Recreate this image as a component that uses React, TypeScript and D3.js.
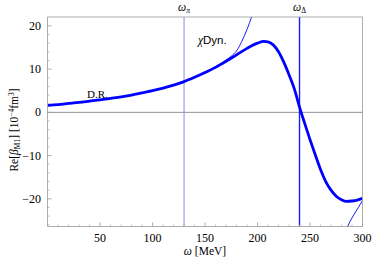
import React from "react";
import * as d3 from "d3";

const drX = [0, 10, 20, 30, 40, 50, 60, 70, 80, 90, 100, 110, 120, 130, 140, 150, 160, 170, 180, 190, 200, 206, 210, 215, 220, 225, 230, 235, 240, 245, 250, 255, 260, 265, 270, 275, 280, 285, 290, 295, 300];
const drY = [1.6, 1.8, 2.05, 2.3, 2.6, 2.9, 3.25, 3.6, 4.0, 4.5, 5.0, 5.6, 6.3, 7.1, 8.1, 9.2, 10.4, 11.8, 13.3, 14.8, 16.0, 16.4, 16.3, 15.6, 14.0, 11.6, 8.7, 5.5, 1.2, -2.6, -6.3, -9.8, -13.2, -16.0, -18.0, -19.4, -20.2, -20.6, -20.5, -20.3, -19.9];

const chiX = [0, 20, 40, 60, 80, 100, 120, 140, 160, 170, 175, 180, 185, 190, 195, 200];
const chiY = [1.6, 2.05, 2.6, 3.25, 4.0, 5.0, 6.3, 8.15, 10.6, 12.1, 13.0, 14.2, 16.4, 19.2, 22.6, 27];

const chi2X = [283, 288, 292, 296, 300];
const chi2Y = [-28, -25.3, -23.6, -22.0, -20.4];

const xTicks = [50, 100, 150, 200, 250, 300];
const yTicks = [-20, -10, 0, 10, 20];
const omegaPi = 130;
const omegaDelta = 240;

export default function App() {
  const W = 374, H = 258;
  const L = 47.6, R = 362.5, T = 17, B = 226.5;
  const x = d3.scaleLinear().domain([0, 300]).range([L, R]);
  const y = d3.scaleLinear().domain([-26.4, 22.05]).range([B, T]);
  const line = d3.line<[number, number]>().x(d => x(d[0])).y(d => y(d[1])).curve(d3.curveMonotoneX);
  const dr = drX.map((v, i) => [v, drY[i]] as [number, number]);
  const chi = chiX.map((v, i) => [v, chiY[i]] as [number, number]);
  const chi2 = chi2X.map((v, i) => [v, chi2Y[i]] as [number, number]);
  const xMinor = d3.range(10, 300, 10).filter(v => v % 50 !== 0);
  const yMinor = d3.range(-26, 22, 2).filter(v => v % 10 !== 0);
  const serif = "Liberation Serif, DejaVu Serif, serif";
  const frameColor = "#999";
  return (
    <svg width={W} height={H} style={{ position: "absolute", left: 0, top: 0 }}>
      <defs>
        <clipPath id="plot">
          <rect x={L} y={T} width={R - L} height={B - T} />
        </clipPath>
      </defs>
      <rect x={0} y={0} width={W} height={H} fill="white" />
      <line x1={L} x2={R} y1={y(0)} y2={y(0)} stroke="#777" strokeWidth={0.8} />
      <g clipPath="url(#plot)">
        <line x1={x(omegaPi)} x2={x(omegaPi)} y1={T} y2={B} stroke="#8c8ce0" strokeWidth={1} />
        <line x1={x(omegaDelta)} x2={x(omegaDelta)} y1={T} y2={B} stroke="#1a1aff" strokeWidth={1.4} />
        <path d={line(chi) || ""} fill="none" stroke="#1a1aff" strokeWidth={1} />
        <path d={line(chi2) || ""} fill="none" stroke="#1a1aff" strokeWidth={1} />
        <path d={line(dr) || ""} fill="none" stroke="#0000ff" strokeWidth={2.8} strokeLinejoin="round" />
      </g>
      <rect x={L} y={T} width={R - L} height={B - T} fill="none" stroke={frameColor} strokeWidth={0.8} />
      {xTicks.map(v => (
        <g key={"xt" + v}>
          <line x1={x(v)} x2={x(v)} y1={B} y2={B - 4} stroke={frameColor} strokeWidth={0.8} />
          <text x={x(v)} y={242} textAnchor="middle" fontFamily={serif} fontSize={12}>{v}</text>
        </g>
      ))}
      {xMinor.map(v => (
        <line key={"xm" + v} x1={x(v)} x2={x(v)} y1={B} y2={B - 2} stroke={frameColor} strokeWidth={0.6} />
      ))}
      {yTicks.map(v => (
        <g key={"yt" + v}>
          <line x1={L} x2={L + 4} y1={y(v)} y2={y(v)} stroke={frameColor} strokeWidth={0.8} />
          <text x={41} y={y(v) + 4} textAnchor="end" fontFamily={serif} fontSize={12}>{v < 0 ? "\u2212" + Math.abs(v) : v}</text>
        </g>
      ))}
      {yMinor.map(v => (
        <line key={"ym" + v} x1={L} x2={L + 2} y1={y(v)} y2={y(v)} stroke={frameColor} strokeWidth={0.6} />
      ))}
      <text x={x(omegaPi)} y={11} textAnchor="middle" fontFamily={serif} fontSize={11.5} fontStyle="italic">
        ω<tspan fontSize={7.5} dy={2}>π</tspan>
      </text>
      <text x={x(omegaDelta)} y={11} textAnchor="middle" fontFamily={serif} fontSize={11.5} fontStyle="italic">
        ω<tspan fontSize={7.5} dy={2} fontStyle="normal">Δ</tspan>
      </text>
      <text x={198} y={44} fontSize={11.5}>
        <tspan fontFamily={serif} fontStyle="italic">χ</tspan>
        <tspan fontFamily="Liberation Sans, Arial, sans-serif">Dyn.</tspan>
      </text>
      <text x={87} y={98} fontFamily={serif} fontSize={11}>D.R.</text>
      <text x={205} y={255} textAnchor="middle" fontFamily={serif} fontSize={11.5}>
        <tspan fontStyle="italic">ω</tspan> [MeV]
      </text>
      <text transform={`translate(18,130) rotate(-90)`} textAnchor="middle" fontFamily={serif} fontSize={11.5}>
        Re[<tspan fontStyle="italic">β</tspan><tspan fontSize={7.5} dy={2}>M1</tspan><tspan dy={-2}>] [10</tspan><tspan fontSize={7.5} dy={-4.5}>−4</tspan><tspan dy={4.5}>fm</tspan><tspan fontSize={7.5} dy={-4.5}>3</tspan><tspan dy={4.5}>]</tspan>
      </text>
    </svg>
  );
}
